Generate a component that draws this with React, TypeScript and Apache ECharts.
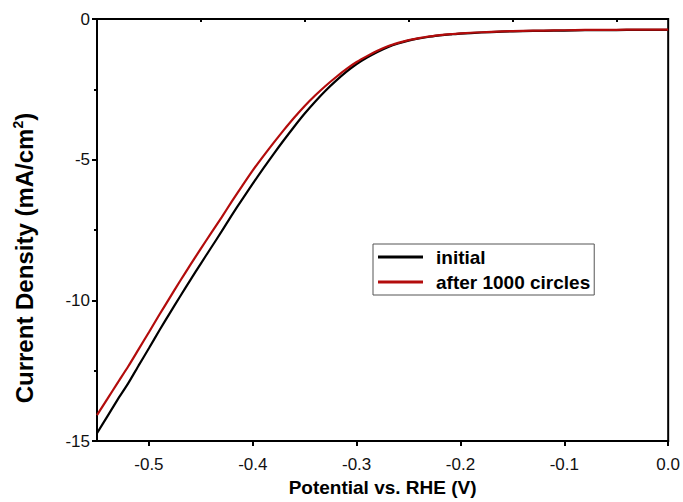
import React, { useEffect, useRef } from "react";
import * as echarts from "echarts";

const potential = [-0.55,-0.54,-0.53,-0.52,-0.51,-0.50,-0.49,-0.48,-0.47,-0.46,-0.45,-0.44,-0.43,-0.42,-0.41,-0.40,-0.39,-0.38,-0.37,-0.36,-0.35,-0.34,-0.33,-0.32,-0.31,-0.30,-0.29,-0.28,-0.27,-0.26,-0.25,-0.24,-0.23,-0.22,-0.21,-0.20,-0.18,-0.16,-0.14,-0.12,-0.10,-0.08,-0.06,-0.04,-0.02,0.00];

const initialCurrent = [-14.72,-14.12,-13.52,-12.95,-12.32,-11.70,-11.07,-10.46,-9.86,-9.27,-8.69,-8.12,-7.55,-6.96,-6.40,-5.85,-5.32,-4.80,-4.30,-3.82,-3.36,-2.94,-2.55,-2.20,-1.88,-1.60,-1.37,-1.17,-1.00,-0.87,-0.77,-0.69,-0.63,-0.58,-0.55,-0.52,-0.48,-0.45,-0.43,-0.42,-0.41,-0.40,-0.40,-0.39,-0.39,-0.39];

const afterCurrent = [-14.08,-13.50,-12.92,-12.35,-11.74,-11.13,-10.51,-9.91,-9.31,-8.73,-8.16,-7.60,-7.05,-6.47,-5.92,-5.38,-4.88,-4.40,-3.94,-3.50,-3.09,-2.72,-2.38,-2.07,-1.78,-1.53,-1.32,-1.13,-0.97,-0.85,-0.75,-0.68,-0.62,-0.57,-0.54,-0.51,-0.47,-0.44,-0.42,-0.41,-0.40,-0.39,-0.39,-0.38,-0.38,-0.38];

const seriesNames = ["initial", "after 1000 circles"];
const seriesColors = ["#000000", "#b30c0c"];
const xMajorTicks = [-0.5, -0.4, -0.3, -0.2, -0.1, 0];
const xMinorTicks = [-0.55, -0.45, -0.35, -0.25, -0.15, -0.05];

const FONT = "'Liberation Sans', Arial, sans-serif";

export default function App() {
  const ref = useRef<HTMLDivElement>(null);
  useEffect(() => {
    if (!ref.current) return;
    const chart = echarts.init(ref.current, null, { renderer: "svg" });
    const curves = [initialCurrent, afterCurrent];
    chart.setOption({
      animation: false,
      backgroundColor: "#ffffff",
      textStyle: { fontFamily: FONT },
      grid: {
        left: 97,
        right: 13,
        top: 19,
        bottom: 56,
        show: true,
        borderColor: "#000",
        borderWidth: 2,
        backgroundColor: "transparent",
      },
      legend: {
        orient: "vertical",
        left: 373,
        top: 244,
        padding: [3, 4, 3, 5],
        itemGap: 5,
        itemWidth: 45,
        itemHeight: 3,
        icon: "rect",
        borderColor: "#555",
        borderWidth: 1,
        data: seriesNames,
        textStyle: {
          fontFamily: FONT,
          fontSize: 19,
          fontWeight: "bold",
          color: "#000",
          lineHeight: 20,
          padding: [0, 0, 0, 8],
        },
      },
      xAxis: [
        {
          type: "value",
          min: -0.55,
          max: 0,
          name: "Potential vs. RHE (V)",
          nameLocation: "middle",
          nameGap: 36,
          nameTextStyle: { fontFamily: FONT, fontSize: 19, fontWeight: "bold", color: "#000" },
          axisLine: { show: true, onZero: false, lineStyle: { color: "#000", width: 2 } },
          axisTick: { show: true, length: 5, customValues: xMajorTicks, lineStyle: { color: "#000", width: 2 } },
          axisLabel: {
            show: true,
            customValues: xMajorTicks,
            margin: 15,
            fontFamily: FONT,
            fontSize: 17,
            color: "#111",
            formatter: (v: number) => v.toFixed(1),
          },
          splitLine: { show: false },
        },
        {
          type: "value",
          min: -0.55,
          max: 0,
          position: "bottom",
          axisLine: { show: false },
          axisTick: { show: true, length: 3, customValues: xMinorTicks, lineStyle: { color: "#000", width: 2 } },
          axisLabel: { show: false },
          splitLine: { show: false },
        },
      ],
      yAxis: {
        type: "value",
        min: -15,
        max: 0,
        interval: 5,
        name: "Current Density (mA/cm{sup|2})",
        nameLocation: "middle",
        nameRotate: 90,
        nameGap: 59,
        nameTextStyle: {
          fontFamily: FONT,
          fontSize: 24,
          fontWeight: "bold",
          color: "#000",
          padding: [0, 56, 0, 0],
          rich: {
            sup: { fontFamily: FONT, fontSize: 14, fontWeight: "bold", color: "#000", verticalAlign: "top", padding: [0, 0, 13, 0] },
          },
        },
        axisLine: { show: true, onZero: false, lineStyle: { color: "#000", width: 2 } },
        axisTick: { show: true, length: 5, lineStyle: { color: "#000", width: 2 } },
        minorTick: { show: true, splitNumber: 2, length: 3, lineStyle: { color: "#000", width: 2 } },
        axisLabel: { margin: 7, fontFamily: FONT, fontSize: 17, color: "#111" },
        splitLine: { show: false },
      },
      series: curves.map((c, i) => ({
        name: seriesNames[i],
        type: "line",
        xAxisIndex: 0,
        showSymbol: false,
        smooth: 0.2,
        lineStyle: { color: seriesColors[i], width: 2.2 },
        itemStyle: { color: seriesColors[i] },
        data: potential.map((p, k) => [p, c[k]]),
      })),
    });
    return () => chart.dispose();
  }, []);
  return <div ref={ref} style={{ position: "fixed", left: 0, top: 0, width: 683, height: 502 }} />;
}
